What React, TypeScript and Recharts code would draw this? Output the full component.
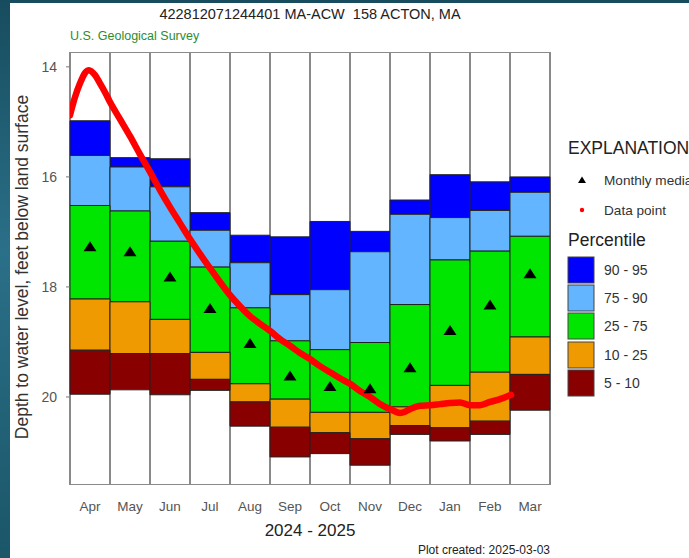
import React from 'react';
import { ComposedChart, Bar, Line, XAxis, YAxis } from 'recharts';

const FONT = '"Liberation Sans", Arial, Helvetica, sans-serif';

const months = ['Apr', 'May', 'Jun', 'Jul', 'Aug', 'Sep', 'Oct', 'Nov', 'Dec', 'Jan', 'Feb', 'Mar'];
const p95 = [14.98, 15.65, 15.67, 16.65, 17.06, 17.09, 16.81, 16.99, 16.42, 15.96, 16.09, 16.0];
const p90 = [15.61, 15.82, 16.18, 16.97, 17.56, 18.14, 18.05, 17.36, 16.68, 16.74, 16.61, 16.28];
const p75 = [16.52, 16.62, 17.17, 17.64, 18.38, 18.98, 19.14, 19.01, 18.32, 17.51, 17.35, 17.08];
const p25 = [18.22, 18.27, 18.59, 19.19, 19.76, 20.04, 20.28, 20.28, 20.18, 19.79, 19.55, 18.91];
const p10 = [19.15, 19.21, 19.21, 19.68, 20.09, 20.55, 20.65, 20.76, 20.52, 20.56, 20.44, 19.59];
const p5 = [19.95, 19.87, 19.96, 19.88, 20.53, 21.09, 21.03, 21.24, 20.68, 20.8, 20.68, 20.24];
const medians = [17.27, 17.36, 17.82, 18.39, 19.03, 19.62, 19.81, 19.85, 19.47, 18.79, 18.33, 17.76];

// daily data trace: time in months since Apr 1 2024, depth in feet
const dataTime = [0, 0.125, 0.25, 0.375, 0.475, 0.625, 0.75, 0.875, 1.0, 1.25, 1.5, 1.75, 2.0, 2.25, 2.5, 2.75, 3.0, 3.25, 3.5, 3.75, 4.0, 4.25, 4.5, 4.75, 5.0, 5.25, 5.5, 5.75, 6.0, 6.25, 6.5, 6.75, 7.0, 7.25, 7.5, 7.75, 8.0, 8.25, 8.375, 8.5, 8.75, 9.0, 9.25, 9.5, 9.75, 10.0, 10.25, 10.5, 10.75, 11.025];
const dataLevel = [14.88, 14.55, 14.3, 14.11, 14.06, 14.15, 14.3, 14.46, 14.64, 14.95, 15.26, 15.59, 15.91, 16.24, 16.55, 16.84, 17.13, 17.4, 17.66, 17.91, 18.15, 18.35, 18.53, 18.67, 18.8, 18.95, 19.07, 19.2, 19.31, 19.44, 19.55, 19.66, 19.76, 19.89, 20.0, 20.13, 20.22, 20.29, 20.27, 20.22, 20.16, 20.15, 20.13, 20.11, 20.1, 20.15, 20.15, 20.09, 20.04, 19.96];

const yTicks = [14, 16, 18, 20];
const Y_MIN = 13.73;
const Y_MAX = 21.6;

const bands = [
  { key: 'b9095', label: '90 - 95', color: '#0000ff' },
  { key: 'b7590', label: '75 - 90', color: '#63b5ff' },
  { key: 'b2575', label: '25 - 75', color: '#00e600' },
  { key: 'b1025', label: '10 - 25', color: '#ee9a00' },
  { key: 'b0510', label: '5 - 10', color: '#880000' },
];

const table = months.map((m, i) => ({
  month: m,
  col: [Y_MIN, Y_MAX],
  b9095: [p95[i], p90[i]],
  b7590: [p90[i], p75[i]],
  b2575: [p75[i], p25[i]],
  b1025: [p25[i], p10[i]],
  b0510: [p10[i], p5[i]],
  median: medians[i],
}));

const lineData = dataTime.map((t, i) => ({ t, level: dataLevel[i] }));

const TriangleDot = (props: any) => {
  const { cx, cy, index } = props;
  if (cx == null || cy == null) return <g key={index} />;
  return (
    <polygon
      key={index}
      points={`${cx},${cy - 5.5} ${cx - 6.5},${cy + 4.5} ${cx + 6.5},${cy + 4.5}`}
      fill="#000"
    />
  );
};

const MonthTick = (props: any) => {
  const { x, payload } = props;
  return (
    <text x={x} y={511} textAnchor="middle" fill="#555" fontSize={13.5} fontFamily={FONT}>
      {payload.value}
    </text>
  );
};

export default function App() {
  return (
    <div style={{ position: 'absolute', left: 0, top: 0, width: 689, height: 558, overflow: 'hidden', background: 'linear-gradient(180deg, #174c5e 0%, #2a7088 45%, #1b5669 100%)' }}>
      <div style={{ position: 'absolute', left: 10, top: 3, width: 679, height: 555, background: '#ffffff' }} />
      <div style={{ position: 'absolute', left: 0, top: 0 }}>
        <ComposedChart
          width={689}
          height={558}
          data={table}
          margin={{ top: 52, right: 139, bottom: 43, left: 20 }}
          barCategoryGap={0}
          barGap="-100%"
        >
          <XAxis dataKey="month" xAxisId={0} height={30} axisLine={false} tickLine={false} tick={<MonthTick />} interval={0} />
          <XAxis xAxisId="t" type="number" dataKey="t" domain={[0, 12]} hide allowDataOverflow />
          <YAxis
            type="number"
            domain={[Y_MIN, Y_MAX]}
            reversed
            allowDataOverflow
            ticks={yTicks}
            width={50}
            axisLine={false}
            tickSize={4}
            tickMargin={9}
            tickLine={{ stroke: '#777' }}
            tick={{ fill: '#555', fontSize: 14, fontFamily: FONT }}
          />
          <Bar dataKey="col" xAxisId={0} fill="#ffffff" stroke="#8a8a8a" strokeWidth={2} isAnimationActive={false} />
          {bands.map((b) => (
            <Bar key={b.key} dataKey={b.key} xAxisId={0} fill={b.color} stroke="#222" strokeWidth={1} isAnimationActive={false} />
          ))}
          <Line dataKey="median" xAxisId={0} stroke="none" dot={<TriangleDot />} activeDot={false} isAnimationActive={false} />
          <Line data={lineData} xAxisId="t" dataKey="level" type="monotone" stroke="#ff0000" strokeWidth={6.5} strokeLinecap="round" strokeLinejoin="round" dot={false} activeDot={false} isAnimationActive={false} />
        </ComposedChart>
      </div>
      <svg width={689} height={558} style={{ position: 'absolute', left: 0, top: 0, pointerEvents: 'none' }} fontFamily={FONT}>
        <text x={310} y={19} textAnchor="middle" fontSize={14.5} fill="#222" style={{ whiteSpace: 'pre' }}>
          {'422812071244401 MA-ACW  158 ACTON, MA'}
        </text>
        <text x={70} y={40} fontSize={12.5} fill="#2e8b2e">U.S. Geological Survey</text>
        <text transform="translate(28,267) rotate(-90)" textAnchor="middle" fontSize={17.5} fill="#333">
          Depth to water level, feet below land surface
        </text>
        <text x={310} y={536} textAnchor="middle" fontSize={17} fill="#222">2024 - 2025</text>
        <text x={550} y={554} textAnchor="end" fontSize={12} fill="#222">Plot created: 2025-03-03</text>

        <text x={568} y={154} fontSize={17.5} fill="#222">EXPLANATION</text>
        <polygon points="582,176.5 578,183 586,183" fill="#000" />
        <text x={604} y={185} fontSize={13.6} fill="#333">Monthly median</text>
        <circle cx={582} cy={210} r={2.2} fill="#ff0000" />
        <text x={604} y={215} fontSize={13.6} fill="#333">Data point</text>
        <text x={568} y={246} fontSize={17.5} fill="#222">Percentile</text>
        {bands.map((b, i) => {
          const ys = [257, 285, 313, 342, 370];
          return (
            <g key={b.key}>
              <rect x={568} y={ys[i]} width={26} height={26} fill={b.color} stroke="#444" strokeWidth={1} />
              <text x={604} y={ys[i] + 18} fontSize={14} fill="#333">{b.label}</text>
            </g>
          );
        })}
      </svg>
    </div>
  );
}
